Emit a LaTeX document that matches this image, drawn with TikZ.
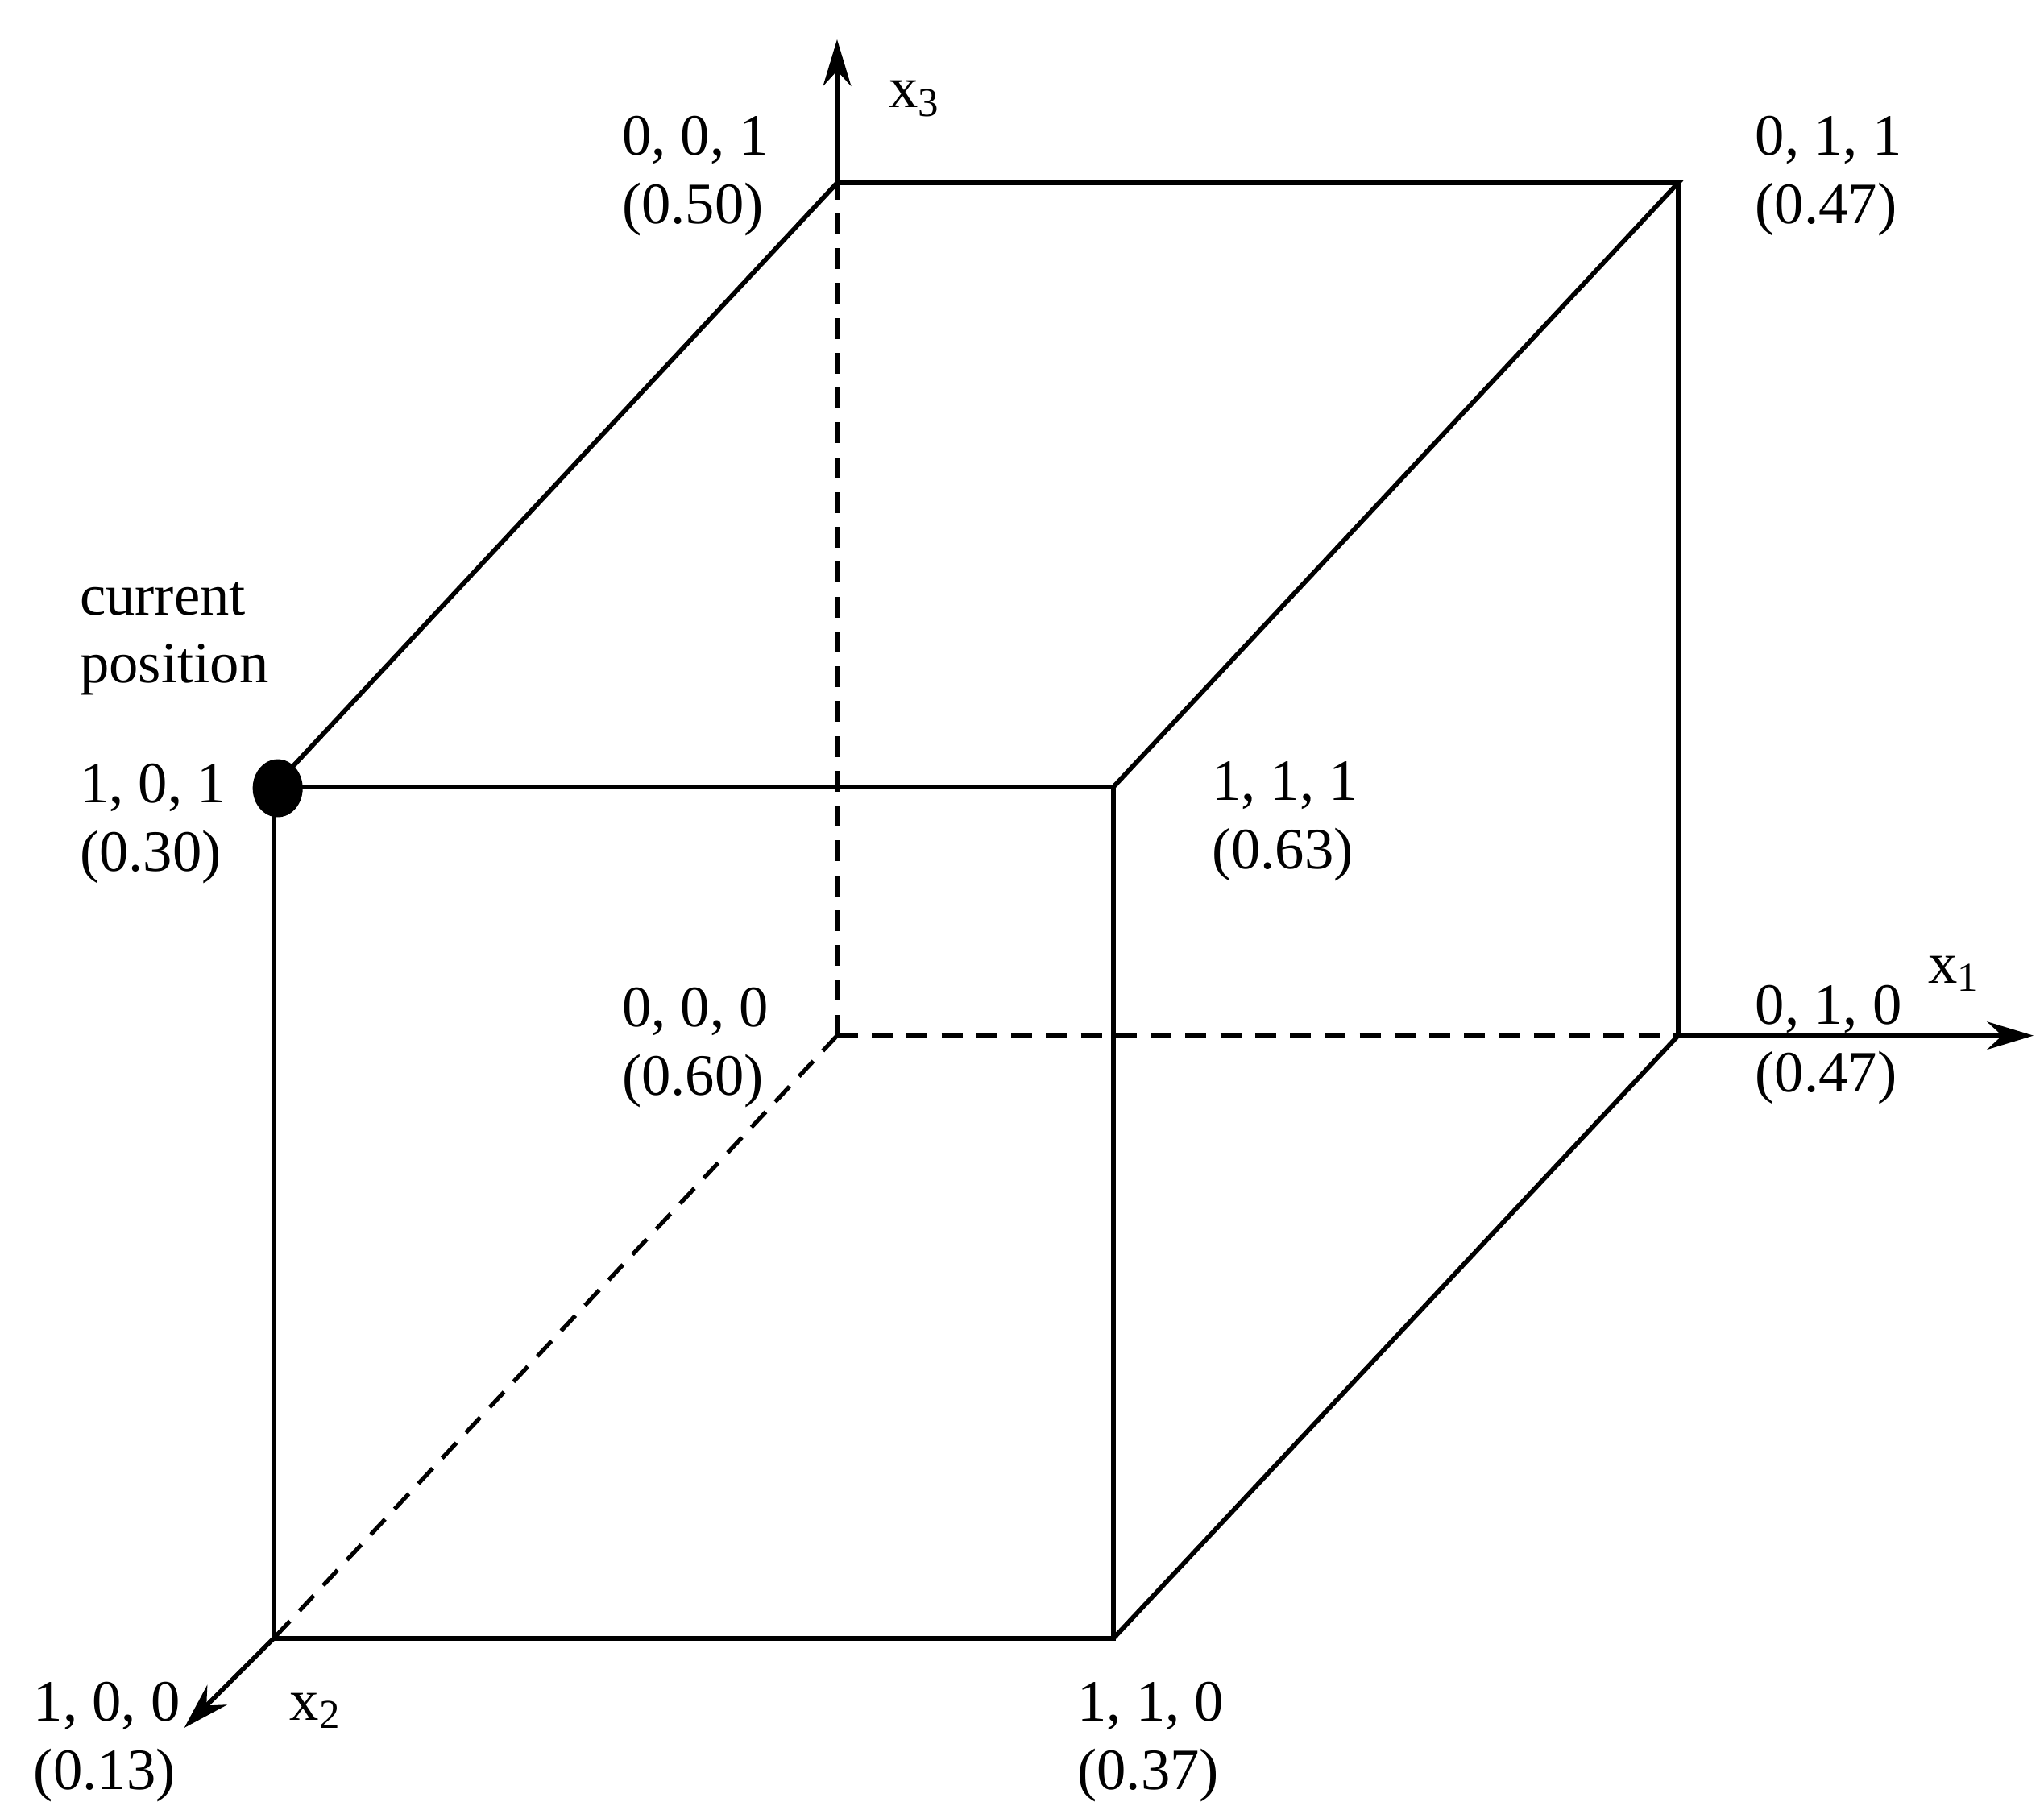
\documentclass[tikz,border=0pt]{standalone}
\usepackage{fontspec}
\setmainfont{Liberation Serif}
\usetikzlibrary{arrows.meta}
\begin{document}
\begin{tikzpicture}[x=0.2833pt,y=-0.2833pt,
  edge/.style={line width=1pt},
  hid/.style={line width=0.9pt,dash pattern=on 4.5pt off 3pt},
  axis/.style={line width=1pt,-{Stealth[length=10pt,width=6pt]}},
  lab/.style={anchor=base west,align=left,inner sep=0pt,font=\fontsize{12.6}{14.7}\selectfont},
  axl/.style={inner sep=0pt,font=\fontsize{12.6}{14.7}\selectfont}]
\useasboundingbox (0,0) rectangle (1553,1375);
\coordinate (b000) at (636,787);
\coordinate (b001) at (636,139);
\coordinate (b011) at (1275,139);
\coordinate (b010) at (1275,787);
\coordinate (f101) at (208,598);
\coordinate (f111) at (846,598);
\coordinate (f100) at (208,1245);
\coordinate (f110) at (846,1245);
\coordinate (a3) at (636,30);
\coordinate (a1) at (1545,787);
\coordinate (a2) at (140,1313);
% hidden edges
\draw[hid] (b000) -- (b001);
\draw[hid] (b000) -- (b010);
\draw[hid] (b000) -- (f100);
% visible edges
\draw[edge] (f101) -- (b001) -- (b011) -- (f111) -- cycle;
\draw[edge] (f101) -- (f100) -- (f110) -- (f111);
\draw[edge] (b011) -- (b010) -- (f110);
% axes
\draw[axis] (b001) -- (a3);
\draw[axis] (b010) -- (a1);
\draw[axis] (f100) -- (a2);
\node[axl] (x3) at (695,75) {x\textsubscript{3}};
\node[axl] (x1) at (1485,740) {x\textsubscript{1}};
\node[axl] (x2) at (240,1300) {x\textsubscript{2}};
% current position dot
\fill (211,599) ellipse [x radius=19, y radius=22];
% labels
\node[lab] (l001) at (472,170) {0, 0, 1\\(0.50)};
\node[lab] (l011) at (1333,170) {0, 1, 1\\(0.47)};
\node[lab] (lcur) at (60,519) {current\\position};
\node[lab] (l101) at (60,662) {1, 0, 1\\(0.30)};
\node[lab] (l111) at (920,660) {1, 1, 1\\(0.63)};
\node[lab] (l000) at (472,832) {0, 0, 0\\(0.60)};
\node[lab] (l010) at (1333,830) {0, 1, 0\\(0.47)};
\node[lab] (l100) at (25,1360) {1, 0, 0\\(0.13)};
\node[lab] (l110) at (818,1360) {1, 1, 0\\(0.37)};
\end{tikzpicture}
\end{document}
